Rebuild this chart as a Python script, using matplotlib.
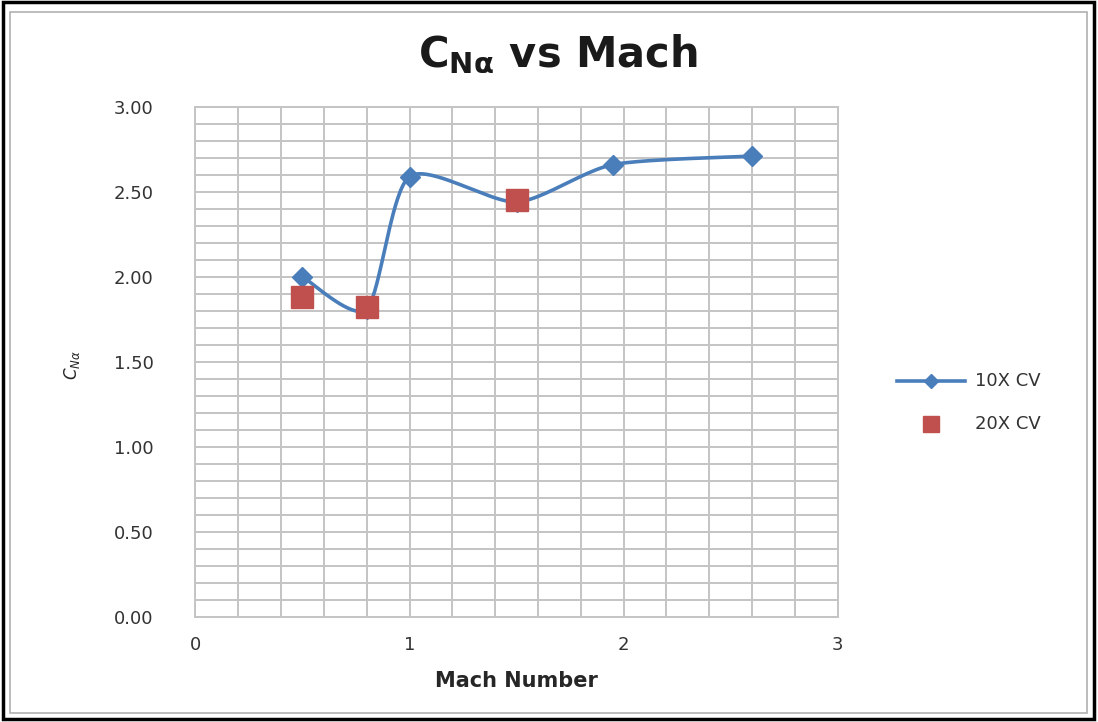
import matplotlib
matplotlib.use("Agg")
import matplotlib.pyplot as plt
import numpy as np
from matplotlib.patches import Rectangle

mach_10x = [0.5, 0.8, 1.0, 1.5, 1.95, 2.6]
cna_10x = [2.00, 1.81, 2.59, 2.44, 2.66, 2.71]
mach_20x = [0.5, 0.8, 1.5]
cna_20x = [1.88, 1.82, 2.45]

y_ticks = [0.0, 0.5, 1.0, 1.5, 2.0, 2.5, 3.0]
x_ticks = [0, 1, 2, 3]

BLUE = "#4a7ebb"
RED = "#c0504d"
GRID = "#c4c4c4"


def smooth_curve(xs, ys, samples=40, k=8.0):
    # cubic bezier through each pair of points, spreadsheet-style smoothing
    pts = np.column_stack([xs, ys]).astype(float)
    padded = np.vstack([pts[0], pts, pts[-1]])
    t = np.linspace(0.0, 1.0, samples)[:, None]
    out = []
    for i in range(len(pts) - 1):
        p0, p3 = padded[i + 1], padded[i + 2]
        p1 = p0 + (padded[i + 2] - padded[i]) / k
        p2 = p3 - (padded[i + 3] - padded[i + 1]) / k
        seg = ((1 - t) ** 3) * p0 + 3 * ((1 - t) ** 2) * t * p1 + 3 * (1 - t) * t ** 2 * p2 + t ** 3 * p3
        out.append(seg if i == 0 else seg[1:])
    curve = np.vstack(out)
    return curve[:, 0], curve[:, 1]


fig = plt.figure(figsize=(10.98, 7.22), dpi=100)
ax = fig.add_axes([0.178, 0.146, 0.585, 0.706])

# outer frame
fig.patches.append(Rectangle((0.003, 0.004), 0.993, 0.993, transform=fig.transFigure,
                             fill=False, edgecolor="black", linewidth=2.5))
fig.patches.append(Rectangle((0.009, 0.012), 0.981, 0.972, transform=fig.transFigure,
                             fill=False, edgecolor="#b0b0b0", linewidth=1.2))

ax.set_xlim(0, 3)
ax.set_ylim(0, 3)
ax.set_xticks(x_ticks)
ax.set_yticks(y_ticks)
ax.set_xticks(np.arange(0, 3.01, 0.2), minor=True)
ax.set_yticks(np.arange(0, 3.01, 0.1), minor=True)
ax.grid(True, which="both", color=GRID, linewidth=1.4)
ax.set_axisbelow(True)
ax.tick_params(which="both", length=0)
ax.tick_params(axis="y", pad=30, labelsize=13, labelcolor="#333333")
ax.tick_params(axis="x", pad=14, labelsize=13, labelcolor="#333333")
ax.set_yticklabels([f"{v:.2f}" for v in y_ticks])
for s in ax.spines.values():
    s.set_color(GRID)
    s.set_linewidth(1.4)

sx, sy = smooth_curve(mach_10x, cna_10x)
ax.plot(sx, sy, color=BLUE, linewidth=2.6, zorder=3)
ax.plot(mach_10x, cna_10x, linestyle="none", marker="D", markersize=10,
        color=BLUE, zorder=4)
ax.plot(mach_20x, cna_20x, linestyle="none", marker="s", markersize=16,
        color=RED, zorder=5)

fig.text(0.508, 0.925, r"$\mathbf{C_{N\alpha}}$ vs Mach", ha="center", va="center",
         fontsize=30, fontweight="bold", color="#1a1a1a")
ax.set_xlabel("Mach Number", fontsize=15, fontweight="bold", color="#262626", labelpad=12)
fig.text(0.066, 0.495, r"$C_{N\alpha}$", rotation=90, ha="center", va="center",
         fontsize=12, color="#262626")

# legend
lx0, lx1, ly1, ly2 = 0.817, 0.879, 0.472, 0.413
fig.add_artist(plt.Line2D([lx0, lx1], [ly1, ly1], transform=fig.transFigure,
                          color=BLUE, linewidth=2.6))
fig.add_artist(plt.Line2D([(lx0 + lx1) / 2], [ly1], transform=fig.transFigure,
                          marker="D", markersize=7, color=BLUE))
fig.add_artist(plt.Line2D([(lx0 + lx1) / 2], [ly2], transform=fig.transFigure,
                          marker="s", markersize=11, color=RED))
fig.text(0.888, ly1, "10X CV", ha="left", va="center", fontsize=13, color="#333333")
fig.text(0.888, ly2, "20X CV", ha="left", va="center", fontsize=13, color="#333333")

fig.savefig("out.png", dpi=100)
